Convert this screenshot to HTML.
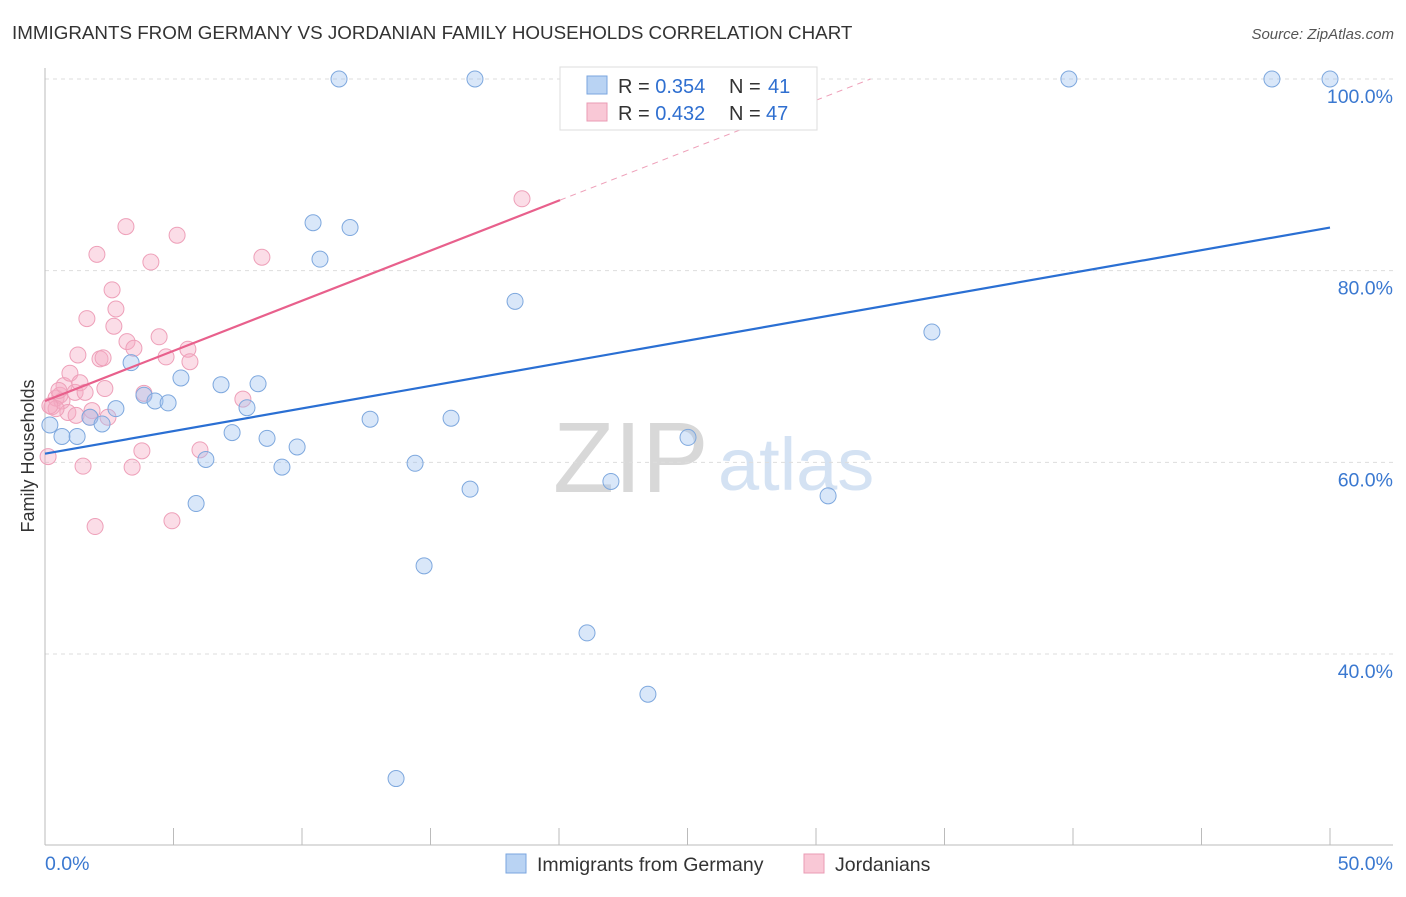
<!DOCTYPE html>
<html><head><meta charset="utf-8"><style>
body{margin:0;background:#fff;font-family:"Liberation Sans",sans-serif;}
svg text{font-family:"Liberation Sans",sans-serif;}
</style></head><body>
<svg id="chart" width="1406" height="892">
<text x="12" y="39" font-size="18.8" fill="#333">IMMIGRANTS FROM GERMANY VS JORDANIAN FAMILY HOUSEHOLDS CORRELATION CHART</text>
<text x="1394" y="39" font-size="15" fill="#555" text-anchor="end" font-style="italic">Source: ZipAtlas.com</text>
<g><text x="553" y="492" font-size="100" fill="#d8d8d8" font-family="Liberation Serif,serif">ZIP</text><text x="718" y="490" font-size="74" fill="#d4e2f3">atlas</text></g>
<g id="grid"></g><g id="axes"></g><g id="marks"></g>
<text x="34" y="456" font-size="18" fill="#333" text-anchor="middle" transform="rotate(-90 34 456)">Family Households</text>
<g>
<rect x="560" y="67" width="257" height="63" fill="#fff" stroke="#ddd"/>
<rect x="587" y="76" width="20" height="18" fill="#b9d3f3" stroke="#7aa6df"/>
<text x="618" y="93" font-size="20" fill="#333">R = <tspan fill="#2f6fd0">0.354</tspan></text>
<text x="729" y="93" font-size="20" fill="#333">N = </text><text x="768" y="93" font-size="20" fill="#2f6fd0">41</text>
<rect x="587" y="103" width="20" height="18" fill="#f9c8d6" stroke="#ea9bb4"/>
<text x="618" y="120" font-size="20" fill="#333">R = <tspan fill="#2f6fd0">0.432</tspan></text>
<text x="729" y="120" font-size="20" fill="#333">N = </text><text x="766" y="120" font-size="20" fill="#2f6fd0">47</text>
</g>
<g>
<rect x="506" y="854" width="20" height="19" fill="#b9d3f3" stroke="#7aa6df"/>
<text x="537" y="871" font-size="19.5" fill="#333">Immigrants from Germany</text>
<rect x="804" y="854" width="20" height="19" fill="#f9c8d6" stroke="#ea9bb4"/>
<text x="835" y="871" font-size="19.5" fill="#333">Jordanians</text>
</g>
</svg>
<script>
const blueX=[11.44,16.73,39.84,47.74,50,10.43,11.87,10.70,18.29,34.51,3.35,5.29,6.85,8.29,3.85,4.28,4.79,7.86,2.76,1.75,2.22,0.66,1.25,12.65,15.80,7.28,8.64,9.81,25.02,6.26,9.22,14.40,16.54,22.02,30.47,5.88,14.75,21.09,23.46,13.66,0.19];
const blueY=[100,100,100,100,100,85.0,84.5,81.2,76.8,73.6,70.4,68.8,68.1,68.2,67.0,66.4,66.2,65.7,65.6,64.7,64.0,62.7,62.7,64.5,64.6,63.1,62.5,61.6,62.6,60.3,59.5,59.9,57.2,58.0,56.5,55.7,49.2,42.2,35.8,27.0,63.9];
const pinkX=[0.12,0.27,0.43,0.58,0.74,0.97,1.17,1.36,1.56,1.28,1.63,2.02,1.83,1.75,2.14,2.26,2.33,2.45,2.61,2.68,2.76,3.15,3.19,3.46,3.85,3.77,4.12,4.44,4.71,5.14,5.56,5.64,6.03,7.70,8.44,18.56,1.48,3.39,1.95,4.94,0.66,0.89,1.21,0.43,0.19,0.54];
const pinkY=[60.6,65.8,66.7,67.0,68.0,69.3,67.3,68.3,67.3,71.2,75.0,81.7,65.4,64.7,70.8,70.9,67.7,64.7,78.0,74.2,76.0,84.6,72.6,71.9,67.2,61.2,80.9,73.1,71.0,83.7,71.8,70.5,61.3,66.6,81.4,87.5,59.6,59.5,53.3,53.9,66.4,65.2,64.9,65.6,65.9,67.5];
const blueTrend=[60.9,84.5];
const pinkTrend=[66.4,1.046];
const yTicks=[100,80,60,40];
const xTickLabels=["0.0%","50.0%"];
const NS="http://www.w3.org/2000/svg";
const sx=v=>45+v/50*1285, sy=v=>79+(100-v)*9.583;
function mk(tag,a,p){const e=document.createElementNS(NS,tag);for(const k in a)e.setAttribute(k,a[k]);p.appendChild(e);return e;}
const grid=document.getElementById('grid'),axes=document.getElementById('axes'),marks=document.getElementById('marks');
yTicks.forEach(t=>{
 const l=mk('line',{x1:45,x2:1393,y1:sy(t),y2:sy(t),stroke:'#ddd','stroke-dasharray':'4 4'},grid);
 
 
 const tx=mk('text',{x:1393,y:sy(t)+24,'font-size':19.5,fill:'#3a78d0','text-anchor':'end'},axes);
 tx.textContent=t.toFixed(1)+'%';
 
 
});
mk('line',{x1:45,x2:45,y1:68,y2:845,stroke:'#bbb'},axes);
mk('line',{x1:45,x2:1393,y1:845,y2:845,stroke:'#bbb'},axes);
for(let i=0;i<=10;i++){mk('line',{x1:sx(i*5),x2:sx(i*5),y1:828,y2:845,stroke:'#bbb'},axes);}
[[0,'start',45],[1,'end',1393]].forEach(([i,a,x])=>{const t=mk('text',{x:x,y:870,'font-size':19.5,fill:'#3a78d0','text-anchor':a},axes);t.textContent=xTickLabels[i];

});
pinkX.forEach((x,i)=>{const c=mk('circle',{cx:sx(x),cy:sy(pinkY[i]),r:8,fill:'rgba(246,170,195,0.4)',stroke:'#eea0b9','stroke-width':1},marks);

});
blueX.forEach((x,i)=>{const c=mk('circle',{cx:sx(x),cy:sy(blueY[i]),r:8,fill:'rgba(160,195,240,0.4)',stroke:'#7ea8de','stroke-width':1},marks);

});
const bl=mk('line',{x1:sx(0),y1:sy(blueTrend[0]),x2:sx(50),y2:sy(blueTrend[1]),stroke:'#2a6fd3','stroke-width':2.2},marks);


const xe=20.04, xd=(100-pinkTrend[0])/pinkTrend[1];
const pl=mk('line',{x1:sx(0),y1:sy(pinkTrend[0]),x2:sx(xe),y2:sy(pinkTrend[0]+pinkTrend[1]*xe),stroke:'#e8608c','stroke-width':2.2},marks);


const pd=mk('line',{x1:sx(xe),y1:sy(pinkTrend[0]+pinkTrend[1]*xe),x2:sx(xd),y2:sy(100),stroke:'#eea0b9','stroke-width':1,'stroke-dasharray':'6 5'},marks);


</script>
</body></html>
